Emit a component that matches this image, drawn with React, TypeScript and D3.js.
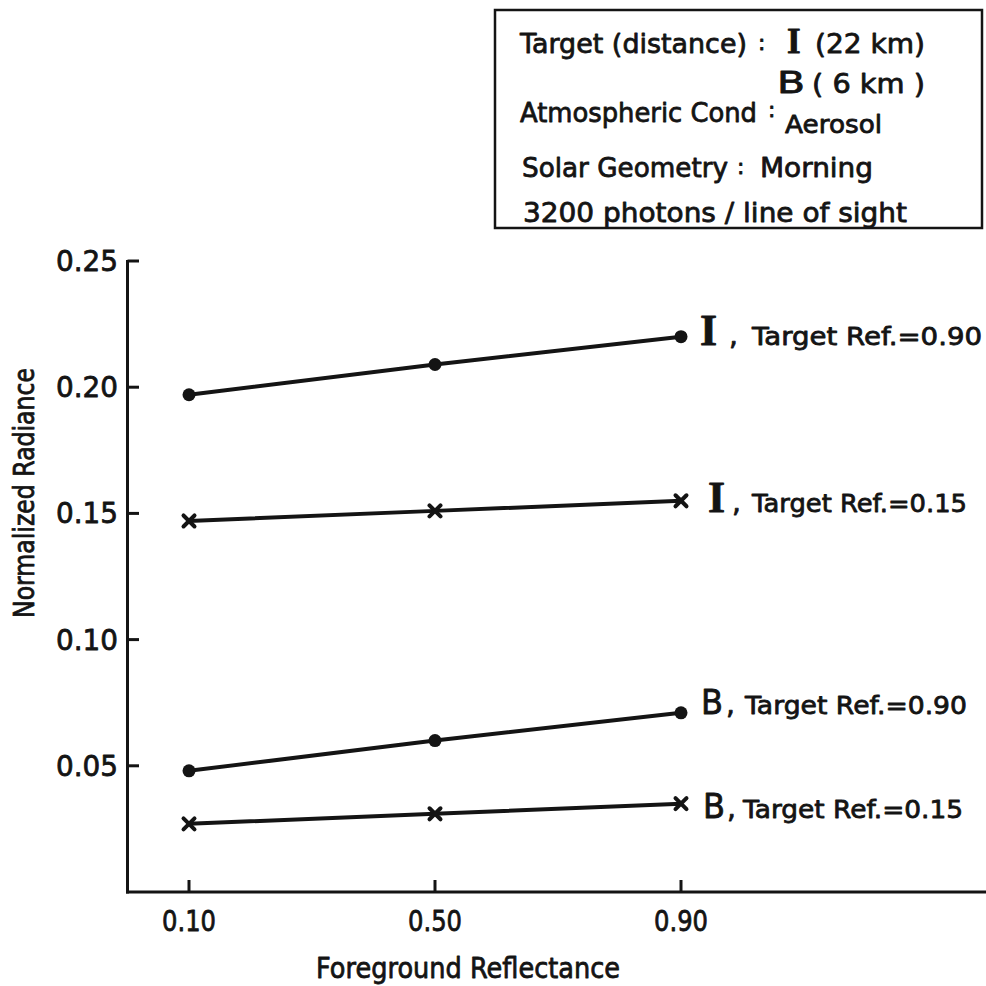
import React from "react";
import * as d3 from "d3";

// Foreground reflectance values (x) and normalized radiance for each target/reflectance case
const foreground = [0.1, 0.5, 0.9];
const radianceI90 = [0.197, 0.209, 0.22];
const radianceI15 = [0.147, 0.151, 0.155];
const radianceB90 = [0.048, 0.06, 0.071];
const radianceB15 = [0.027, 0.031, 0.035];

const xTickValues = [0.1, 0.5, 0.9];
const yTickValues = [0.05, 0.1, 0.15, 0.2, 0.25];

const seriesTargets = ["I", "I", "B", "B"];
const seriesRefs = ["0.90", "0.15", "0.90", "0.15"];

const W = 986;
const H = 986;
const INK = "#141414";
const SANS = "'DejaVu Sans', 'Noto Sans', sans-serif";
const SERIF = "'Liberation Serif', 'DejaVu Serif', serif";

const x = d3.scaleLinear().domain([0, 1.4]).range([127.5, 988.5]);
const y = d3.scaleLinear().domain([0, 0.25]).range([892, 261]);

type Marker = "dot" | "cross";

const series: { values: number[]; marker: Marker; target: string; ref: string; labelDy: number; sub: any }[] = [
  { values: radianceI90, marker: "dot", target: seriesTargets[0], ref: seriesRefs[0], labelDy: 8, sub: { lx: 700, cx: 729, tx: 752, tw: 230, serif: true } },
  { values: radianceI15, marker: "cross", target: seriesTargets[1], ref: seriesRefs[1], labelDy: 11, sub: { lx: 708, cx: 732, tx: 752, tw: 215, serif: true } },
  { values: radianceB90, marker: "dot", target: seriesTargets[2], ref: seriesRefs[2], labelDy: 1, sub: { lx: 701, cx: 726, tx: 745, tw: 222, serif: false } },
  { values: radianceB15, marker: "cross", target: seriesTargets[3], ref: seriesRefs[3], labelDy: 14, sub: { lx: 703, cx: 727, tx: 743, tw: 220, serif: false } },
];

const line = d3
  .line<number>()
  .x((_, i) => x(foreground[i]))
  .y((d) => y(d));

function MarkerShape({ cx, cy, kind }: { cx: number; cy: number; kind: Marker }) {
  if (kind === "dot") return <circle cx={cx} cy={cy} r={6.5} fill={INK} />;
  const s = 5.5;
  return (
    <g stroke={INK} strokeWidth={4} strokeLinecap="round">
      <line x1={cx - s} y1={cy - s} x2={cx + s} y2={cy + s} />
      <line x1={cx - s} y1={cy + s} x2={cx + s} y2={cy - s} />
    </g>
  );
}

const textStyle = { stroke: INK, strokeWidth: 0.8, strokeLinejoin: "round" } as React.CSSProperties;

export default function App() {
  const yTop = y(0.25);
  const y0 = y(0);
  return (
    <svg
      width={W}
      height={H}
      viewBox={`0 0 ${W} ${H}`}
      style={{ position: "absolute", left: 0, top: 0, background: "#fff" }}
    >
      <rect width={W} height={H} fill="#fff" />

      {/* info box */}
      <rect x={495} y={10} width={487} height={218} fill="none" stroke={INK} strokeWidth={2.5} />
      <g fill={INK} fontFamily={SANS} style={textStyle}>
        <text x={520} y={53} fontSize={27} textLength={227} lengthAdjust="spacingAndGlyphs">Target (distance)</text>
        <text x={758} y={50} fontSize={22}>:</text>
        <text x={787} y={53} fontSize={35} fontWeight="bold" fontFamily={SERIF}>I</text>
        <text x={815} y={53} fontSize={27} textLength={110} lengthAdjust="spacingAndGlyphs">(22 km)</text>
        <text x={777} y={93} fontSize={30} textLength={28} lengthAdjust="spacingAndGlyphs">B</text>
        <text x={812} y={93} fontSize={27} textLength={113} lengthAdjust="spacingAndGlyphs">( 6 km )</text>
        <text x={520} y={122} fontSize={27} textLength={237} lengthAdjust="spacingAndGlyphs">Atmospheric Cond</text>
        <text x={768} y={117} fontSize={22}>:</text>
        <text x={785} y={133} fontSize={25} textLength={97} lengthAdjust="spacingAndGlyphs">Aerosol</text>
        <text x={522} y={177} fontSize={27} textLength={206} lengthAdjust="spacingAndGlyphs">Solar Geometry</text>
        <text x={737} y={174} fontSize={22}>:</text>
        <text x={760} y={177} fontSize={27} textLength={113} lengthAdjust="spacingAndGlyphs">Morning</text>
        <text x={523} y={222} fontSize={27} textLength={384} lengthAdjust="spacingAndGlyphs">3200 photons / line of sight</text>
      </g>

      {/* axes */}
      <g stroke={INK} strokeWidth={3} fill="none">
        <line x1={127.5} y1={yTop - 1} x2={127.5} y2={y0 + 1.5} />
        <line x1={126} y1={y0} x2={W} y2={y0} />
        {yTickValues.map((t) => (
          <line key={`yt${t}`} x1={127.5} x2={139} y1={y(t)} y2={y(t)} />
        ))}
        {xTickValues.map((t) => (
          <line key={`xt${t}`} x1={x(t)} x2={x(t)} y1={y0} y2={y0 - 12} />
        ))}
      </g>

      <g fill={INK} fontFamily={SANS} style={textStyle}>
        {yTickValues.map((t) => (
          <text key={`yl${t}`} x={118} y={y(t) + 10} fontSize={29} textAnchor="end" textLength={62} lengthAdjust="spacingAndGlyphs">
            {d3.format(".2f")(t)}
          </text>
        ))}
        {xTickValues.map((t) => (
          <text key={`xl${t}`} x={x(t) - 27} y={931} fontSize={29} textLength={54} lengthAdjust="spacingAndGlyphs">
            {d3.format(".2f")(t)}
          </text>
        ))}
        <text x={316} y={978} fontSize={28} textLength={304} lengthAdjust="spacingAndGlyphs">
          Foreground Reflectance
        </text>
        <text
          transform={`translate(34, 618) rotate(-90)`}
          fontSize={28}
          textLength={250}
          lengthAdjust="spacingAndGlyphs"
        >
          Normalized Radiance
        </text>
      </g>

      {/* series */}
      {series.map((s, si) => {
        const last = s.values[s.values.length - 1];
        const by = y(last) + s.labelDy;
        return (
          <g key={`s${si}`}>
            <path d={line(s.values) ?? ""} fill="none" stroke={INK} strokeWidth={4} strokeLinejoin="round" />
            {s.values.map((v, i) => (
              <MarkerShape key={i} cx={x(foreground[i])} cy={y(v)} kind={s.marker} />
            ))}
            <g fill={INK} style={textStyle}>
              {s.sub.serif ? (
                <text x={s.sub.lx} y={by} fontSize={44} fontWeight="bold" fontFamily={SERIF}>{s.target}</text>
              ) : (
                <text x={s.sub.lx} y={by} fontSize={34} fontFamily={SANS} textLength={22} lengthAdjust="spacingAndGlyphs">{s.target}</text>
              )}
              <text x={s.sub.cx} y={by} fontSize={28} fontFamily={SANS}>,</text>
              <text x={s.sub.tx} y={by} fontSize={25} fontFamily={SANS} textLength={s.sub.tw} lengthAdjust="spacingAndGlyphs">
                {`Target Ref.=${s.ref}`}
              </text>
            </g>
          </g>
        );
      })}
    </svg>
  );
}
